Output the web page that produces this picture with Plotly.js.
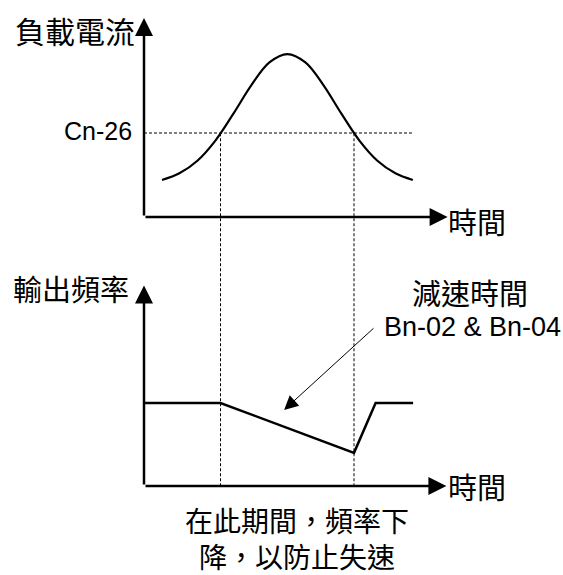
<!DOCTYPE html>
<html>
<head>
<meta charset="utf-8">
<script src="https://cdn.plot.ly/plotly-3.0.1.min.js"></script>
<style>
  html, body { margin: 0; padding: 0; background: #fff; }
  #chart { width: 563px; height: 575px; }
</style>
</head>
<body>
<div id="chart"></div>
<script>
// load current (%) against time (s)
const curTime = [0.6, 1.18, 1.78, 2.38, 2.98, 3.58, 4.18, 4.78, 5.38, 5.98, 6.58, 7.18, 7.78, 8.38, 8.96];
const curValue = [44, 52, 67, 91, 123, 157, 184, 194, 184, 157, 123, 91, 67, 52, 44];
const cnLevel = 100;          // Cn-26 stall level
const cnEnd = 8.95;

// output frequency (Hz), bottom panel
const freqTime = [0, 2.55, 7.0, 7.72, 8.97];
const freqValue = [60, 60, 24, 60, 60];

// period where current is over Cn-26
const markTimes = [2.55, 7.0];
const markTopFreq = 255;      // Cn-26 line height seen on the frequency scale

const axisTipTime = 10.12;
const curAxisTip = 237;
const freqAxisTip = 145;

const W = 563, H = 575;
const cjk = '"Noto Sans CJK TC", "Noto Sans CJK SC", sans-serif';
const latin = '"Liberation Sans", Arial, sans-serif';

function px(x, y) { return { x: x / W, y: 1 - y / H }; }

function label(text, x, y, size, family, xanchor) {
    const p = px(x, y);
    return {
        xref: 'paper', yref: 'paper', x: p.x, y: p.y,
        text: text, showarrow: false,
        xanchor: xanchor || 'center', yanchor: 'middle',
        font: { family: family, size: size, color: '#000' }
    };
}

function axisArrow(yref, x, y) {
    return {
        xref: 'x', yref: yref, axref: 'x', ayref: yref,
        x: x, y: y, ax: 0, ay: 0, text: '',
        showarrow: true, arrowhead: 2, arrowsize: 1.44, arrowwidth: 2.5,
        arrowcolor: '#000', standoff: 0, startstandoff: 0
    };
}

const dashStyle = { color: '#000', width: 1, dash: '3px,2px' };

const traces = [
    {
        x: curTime, y: curValue, type: 'scatter', mode: 'lines',
        line: { color: '#000', width: 2.2, shape: 'spline', smoothing: 1 },
        xaxis: 'x', yaxis: 'y'
    },
    {
        x: [0, cnEnd], y: [cnLevel, cnLevel], type: 'scatter', mode: 'lines',
        line: dashStyle, xaxis: 'x', yaxis: 'y'
    },
    {
        x: [markTimes[0], markTimes[0], null, markTimes[1], markTimes[1]],
        y: [markTopFreq, 0, null, markTopFreq, 0],
        type: 'scatter', mode: 'lines', line: dashStyle,
        xaxis: 'x', yaxis: 'y2'
    },
    {
        x: freqTime, y: freqValue, type: 'scatter', mode: 'lines',
        line: { color: '#000', width: 2.5 },
        xaxis: 'x', yaxis: 'y2'
    }
];

// axes scaled so both panels sit where they do in the drawing
const pxPerSec = 30, originX = 144;
const pxPerCur = 0.84, originCur = 217;
const pxPerHz = 83 / 60, originFreq = 486;

const layout = {
    width: W, height: H,
    margin: { l: 0, r: 0, t: 0, b: 0 },
    paper_bgcolor: '#fff', plot_bgcolor: '#fff',
    showlegend: false,
    xaxis: { visible: false, range: [-originX / pxPerSec, (W - originX) / pxPerSec], fixedrange: true },
    yaxis: { visible: false, range: [(originCur - H) / pxPerCur, originCur / pxPerCur], fixedrange: true },
    yaxis2: { visible: false, overlaying: 'y', range: [(originFreq - H) / pxPerHz, originFreq / pxPerHz], fixedrange: true },
    annotations: [
        axisArrow('y', 0, curAxisTip),
        axisArrow('y', axisTipTime, 0),
        axisArrow('y2', 0, freqAxisTip),
        axisArrow('y2', axisTipTime - 0.04, 0),
        {
            xref: 'x', yref: 'y2', axref: 'x', ayref: 'y2',
            x: 4.67, y: 55, ax: 7.7, ay: 115, text: '',
            showarrow: true, arrowhead: 2, arrowsize: 2.8, arrowwidth: 1,
            arrowcolor: '#000', standoff: 0, startstandoff: 0
        },
        label('負載電流', 75, 30, 30, cjk),
        label('Cn-26', 134, 131, 25, latin, 'right'),
        label('時間', 477, 221, 29, cjk),
        label('輸出頻率', 71, 288, 29, cjk),
        label('減速時間', 470, 292, 29, cjk),
        label('Bn-02 & Bn-04', 472, 327, 27, latin),
        label('時間', 477, 486, 29, cjk),
        label('在此期間，頻率下<br>降，以防止失速', 297, 538, 28, cjk)
    ]
};

Plotly.newPlot('chart', traces, layout, { displayModeBar: false, staticPlot: true });
</script>
</body>
</html>
